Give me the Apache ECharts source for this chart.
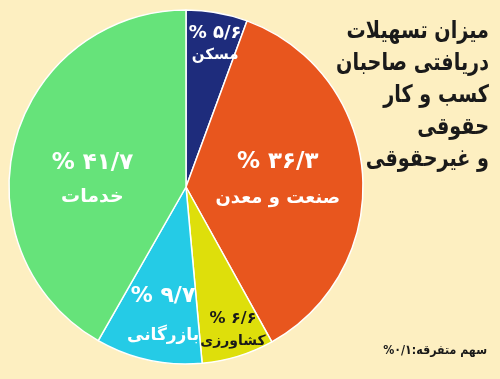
<!DOCTYPE html>
<html>
<head>
<meta charset="utf-8">
<script src="https://cdn.jsdelivr.net/npm/echarts@6/dist/echarts.min.js"></script>
<style>
html,body{margin:0;padding:0;background:#fdefc1;}
#c{width:500px;height:379px;}
</style>
</head>
<body>
<div id="c"></div>
<script>
// ---- data ----
const categories = ['مسکن', 'صنعت و معدن', 'کشاورزی', 'بازرگانی', 'خدمات'];
const values = [5.6, 36.3, 6.6, 9.7, 41.7];
const valueLabels = ['۵/۶', '۳۶/۳', '۶/۶', '۹/۷', '۴۱/۷'];
const titleLines = ['میزان تسهیلات', 'دریافتی صاحبان', 'کسب و کار', 'حقوقی', 'و غیرحقوقی'];
const noteText = 'سهم متفرقه:۰/۱%\u200F';

// ---- styles ----
const colors = ['#1e2c7c', '#e8561e', '#dedf0b', '#25cbe6', '#66e37a'];
const labelColors = ['#fff', '#fff', '#1a1a1a', '#fff', '#fff'];
const numSizes = [18, 23, 16, 22, 23];
const nameSizes = [15, 18, 14, 17, 19];
const nameGap = [22, 36, 23, 39, 34];
// label anchor: [angle from 12 o'clock clockwise (deg), fraction of radius]
const labelPolar = [[11.5, 0.825], [85.6, 0.52], [161.8, 0.85], [190.1, 0.74], [274.3, 0.53]];
const CX = 186, CY = 187, R = 177;

const FONT = '"DejaVu Sans", sans-serif';

const data = categories.map((name, i) => ({
  name: name,
  value: values[i],
  itemStyle: { color: colors[i] },
  label: {
    formatter: '{v|% ' + valueLabels[i] + '}\n{n|' + name + '}',
    rich: {
      v: { fontSize: numSizes[i], fontWeight: 'bold', color: labelColors[i], fontFamily: FONT, lineHeight: nameGap[i], align: 'center' },
      n: { fontSize: nameSizes[i], fontWeight: 'bold', color: labelColors[i], fontFamily: FONT, lineHeight: nameGap[i], align: 'center' }
    }
  }
}));

const titleGraphics = titleLines.map((t, i) => ({
  type: 'text',
  x: 489,
  y: 32 + i * 32,
  scaleX: 0.8,
  style: {
    text: t,
    fontFamily: FONT,
    fontSize: 24,
    fontWeight: 'bold',
    fill: '#1a1a1a',
    align: 'right',
    verticalAlign: 'middle'
  }
}));

const chart = echarts.init(document.getElementById('c'), null, { renderer: 'canvas' });
chart.setOption({
  backgroundColor: '#fdefc1',
  animation: false,
  graphic: titleGraphics.concat([{
    type: 'text',
    x: 487,
    y: 351,
    scaleX: 0.85,
    style: {
      text: noteText,
      fontFamily: FONT,
      fontSize: 13,
      fontWeight: 'bold',
      fill: '#1a1a1a',
      align: 'right',
      verticalAlign: 'middle'
    }
  }]),
  series: [{
    type: 'pie',
    center: [CX, CY],
    radius: [0, R],
    startAngle: 90,
    clockwise: true,
    avoidLabelOverlap: false,
    itemStyle: { borderColor: '#ffffff', borderWidth: 1.5 },
    label: { show: true, position: 'inside', align: 'center', verticalAlign: 'middle' },
    labelLine: { show: false },
    labelLayout: function (p) {
      const lp = labelPolar[p.dataIndex];
      const a = lp[0] * Math.PI / 180;
      return { x: CX + Math.sin(a) * lp[1] * R, y: CY - Math.cos(a) * lp[1] * R };
    },
    emphasis: { disabled: true },
    data: data
  }]
});
</script>
</body>
</html>
